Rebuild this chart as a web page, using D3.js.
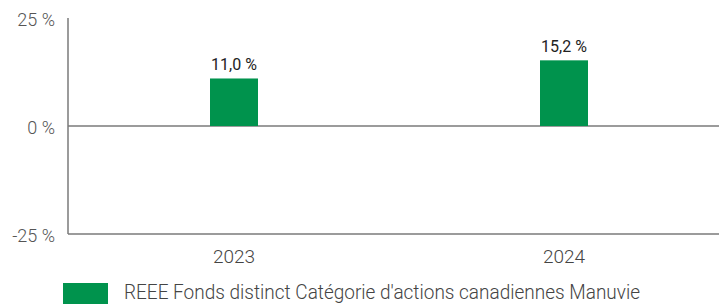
<!DOCTYPE html>
<html>
<head>
<meta charset="utf-8">
<script src="https://cdn.jsdelivr.net/npm/d3@7"></script>
<style>
  html, body { margin: 0; padding: 0; background: #fff; }
  svg text { font-family: "Roboto", "Liberation Sans", sans-serif; font-weight: 300; }
  .tick-label { fill: #555; font-size: 18px; }
  .year-label { fill: #444; font-size: 19px; }
  .value-label { fill: #222; font-size: 16px; font-weight: 400; }
  .legend-text { fill: #444; font-size: 21px; }
</style>
</head>
<body>
<svg id="chart" width="719" height="304"></svg>
<script>
const years = ["2023", "2024"];
const returns = [11.0, 15.2];
const yTicks = [25, 0, -25];
const seriesName = "REEE Fonds distinct Catégorie d'actions canadiennes Manuvie";

const width = 719, height = 304;
const barColor = "#00934d";
const axisColor = "#7a7a7a";

const svg = d3.select("#chart");

const axisX = 68;
const y = d3.scaleLinear().domain([-25, 25]).range([234, 18]);
const x = d3.scaleBand().domain(years).range([69, 729]);
const barWidth = 48;

const fmt = v => v.toFixed(1).replace(".", ",") + " %";

// y axis line
svg.append("line")
    .attr("x1", axisX).attr("x2", axisX)
    .attr("y1", y(25)).attr("y2", y(-25))
    .attr("stroke", axisColor).attr("stroke-width", 1.5);

// zero line and bottom line
[0, -25].forEach(v => {
    svg.append("line")
        .attr("x1", axisX).attr("x2", width)
        .attr("y1", y(v)).attr("y2", y(v))
        .attr("stroke", axisColor).attr("stroke-width", 1.5);
});

// tick labels
svg.selectAll(".tick-label")
    .data(yTicks)
    .enter().append("text")
    .attr("class", "tick-label")
    .attr("x", 55)
    .attr("y", d => y(d) + 3)
    .attr("text-anchor", "end")
    .attr("dominant-baseline", "middle")
    .text(d => d + " %");

// bars
svg.selectAll(".bar")
    .data(returns)
    .enter().append("rect")
    .attr("class", "bar")
    .attr("x", (d, i) => x(years[i]) + x.bandwidth() / 2 - barWidth / 2)
    .attr("y", d => y(Math.max(0, d)))
    .attr("width", barWidth)
    .attr("height", d => Math.abs(y(d) - y(0)))
    .attr("fill", barColor);

// value labels
svg.selectAll(".value-label")
    .data(returns)
    .enter().append("text")
    .attr("class", "value-label")
    .attr("x", (d, i) => x(years[i]) + x.bandwidth() / 2)
    .attr("y", d => y(d) - 8)
    .attr("text-anchor", "middle")
    .text(d => fmt(d));

// year labels
svg.selectAll(".year-label")
    .data(years)
    .enter().append("text")
    .attr("class", "year-label")
    .attr("x", d => x(d) + x.bandwidth() / 2)
    .attr("y", 263)
    .attr("text-anchor", "middle")
    .text(d => d);

// legend
svg.append("rect")
    .attr("x", 63).attr("y", 283)
    .attr("width", 45).attr("height", 24)
    .attr("fill", barColor);

svg.append("text")
    .attr("class", "legend-text")
    .attr("x", 124)
    .attr("y", 299)
    .attr("textLength", 516)
    .attr("lengthAdjust", "spacingAndGlyphs")
    .text(seriesName);
</script>
</body>
</html>
